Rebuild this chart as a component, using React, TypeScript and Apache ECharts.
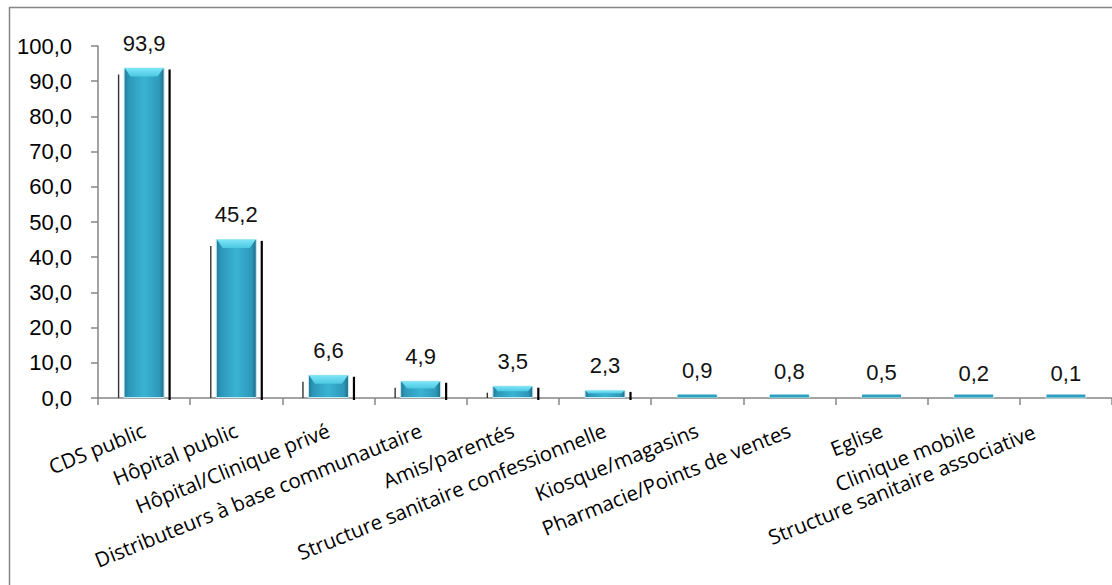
import React, { useEffect, useRef } from "react";
import * as echarts from "echarts";

// Lieux d'approvisionnement (%)
const categories: string[] = [
  "CDS public",
  "Hôpital public",
  "Hôpital/Clinique privé",
  "Distributeurs à base communautaire",
  "Amis/parentés",
  "Structure sanitaire confessionnelle",
  "Kiosque/magasins",
  "Pharmacie/Points de ventes",
  "Eglise",
  "Clinique mobile",
  "Structure sanitaire associative",
];

const values: number[] = [93.9, 45.2, 6.6, 4.9, 3.5, 2.3, 0.9, 0.8, 0.5, 0.2, 0.1];

const yTicks = { min: 0, max: 100, interval: 10 };

const fmt = (v: number) => v.toFixed(1).replace(".", ",");

const BAR_W = 41;

export default function App() {
  const ref = useRef<HTMLDivElement>(null);

  useEffect(() => {
    if (!ref.current) return;
    const chart = echarts.init(ref.current, undefined, { renderer: "svg" });

    // the last label is pulled back inside the plot edge
    const lastIdx = categories.length - 1;
    const axisData = categories.map((c, i) =>
      i === lastIdx
        ? { value: c, textStyle: { padding: [0, 30, 0, 0], verticalAlign: "bottom" } }
        : c
    );

    const barFill = new echarts.graphic.LinearGradient(0, 0, 1, 0, [
      { offset: 0, color: "#237a97" },
      { offset: 0.12, color: "#2d98b9" },
      { offset: 0.5, color: "#3ab3d3" },
      { offset: 0.88, color: "#2d98b9" },
      { offset: 1, color: "#216d86" },
    ]);

    chart.setOption({
      animation: false,
      backgroundColor: "#ffffff",
      graphic: [
        {
          type: "rect",
          shape: { x: 9.5, y: 7.5, width: 1200, height: 700 },
          style: { fill: "none", stroke: "#858585", lineWidth: 1.5 },
          silent: true,
        },
      ],
      grid: { left: 98, right: -5, top: 46, bottom: 187, containLabel: false },
      xAxis: {
        type: "category",
        data: axisData,
        boundaryGap: true,
        axisLine: { lineStyle: { color: "#868686", width: 1.5 } },
        axisTick: { show: true, length: 7, lineStyle: { color: "#868686", width: 1.5 } },
        axisLabel: {
          interval: 0,
          rotate: 22,
          margin: 31,
          color: "#000",
          fontFamily: "'Open Sans', sans-serif",
          fontSize: 20.5,
        },
      },
      yAxis: {
        type: "value",
        min: yTicks.min,
        max: yTicks.max,
        interval: yTicks.interval,
        splitLine: { show: false },
        axisLine: { show: true, lineStyle: { color: "#868686", width: 1.5 } },
        axisTick: { show: true, length: 7, lineStyle: { color: "#868686", width: 1.5 } },
        axisLabel: {
          margin: 26,
          color: "#000",
          fontFamily: "'Liberation Sans', Arial, sans-serif",
          fontSize: 22,
          formatter: (v: number) => fmt(v),
        },
      },
      series: [
        {
          type: "custom",
          z: 1,
          silent: true,
          data: values.map((v, i) => [i, v]),
          renderItem: (params: any, api: any) => {
            const idx = api.value(0);
            const v = api.value(1);
            const top = api.coord([idx, v]);
            const base = api.coord([idx, 0]);
            const x0 = top[0] - BAR_W / 2;
            const x1 = top[0] + BAR_W / 2;
            const h = base[1] - top[1];
            const children: any[] = [];
            if (h > 5) {
              children.push({
                type: "line",
                shape: { x1: x1 + 5, y1: top[1] + 2, x2: x1 + 5, y2: base[1] + 2 },
                style: { stroke: "#000", lineWidth: 2.2 },
              });
            }
            if (h > 10) {
              children.push({
                type: "line",
                shape: { x1: x0 - 5, y1: top[1] + 7, x2: x0 - 5, y2: base[1] },
                style: { stroke: "#333", lineWidth: 1.4 },
              });
            }
            return { type: "group", children };
          },
        },
        {
          type: "bar",
          z: 2,
          barWidth: BAR_W,
          data: values,
          itemStyle: {
            color: barFill,
            borderColor: "#c4ecf6",
            borderWidth: 1,
          },
          label: {
            show: true,
            position: "top",
            distance: 13,
            color: "#111",
            fontFamily: "'Liberation Sans', Arial, sans-serif",
            fontSize: 22,
            formatter: (p: any) => fmt(p.value),
          },
        },
        {
          // bevelled cap on each bar
          type: "custom",
          z: 3,
          silent: true,
          data: values.map((v, i) => [i, v]),
          renderItem: (params: any, api: any) => {
            const idx = api.value(0);
            const v = api.value(1);
            const top = api.coord([idx, v]);
            const base = api.coord([idx, 0]);
            const x0 = top[0] - BAR_W / 2 + 1;
            const x1 = top[0] + BAR_W / 2 - 1;
            const h = base[1] - top[1];
            if (h < 6) {
              return {
                type: "rect",
                shape: { x: x0, y: base[1] - 3.5, width: x1 - x0, height: 3 },
                style: { fill: "#2f9fc0" },
              };
            }
            const bh = Math.min(9, h * 0.45);
            const inset = Math.min(6, bh * 0.8);
            return {
              type: "polygon",
              shape: {
                points: [
                  [x0, top[1] + 0.5],
                  [x1, top[1] + 0.5],
                  [x1 - inset, top[1] + bh],
                  [x0 + inset, top[1] + bh],
                ],
              },
              style: {
                fill: new echarts.graphic.LinearGradient(0, 0, 0, 1, [
                  { offset: 0, color: "#7ee6f7" },
                  { offset: 1, color: "#4cc8e3" },
                ]),
              },
            };
          },
        },
      ],
    });

    return () => chart.dispose();
  }, []);

  return (
    <div
      ref={ref}
      style={{ position: "absolute", left: 0, top: 0, width: 1112, height: 585, background: "#fff" }}
    />
  );
}
